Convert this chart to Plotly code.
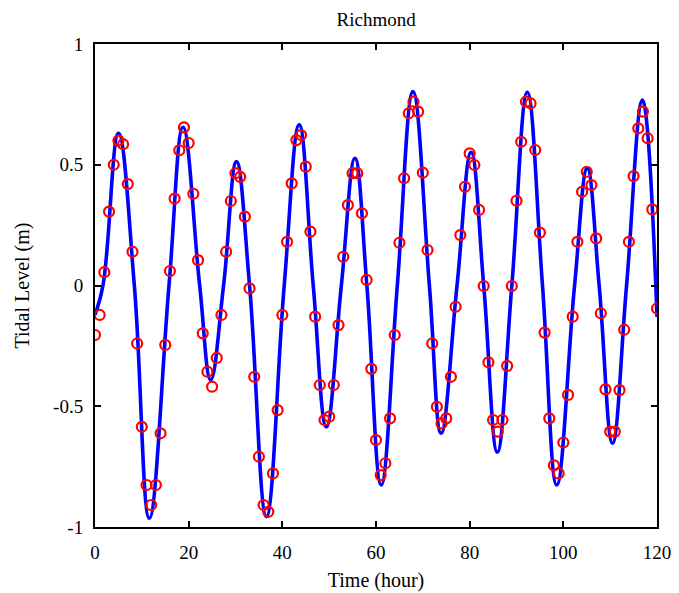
import plotly.graph_objects as go

# Observed tidal level (hourly samples), metres
obs_hour = list(range(0, 121))
obs_level = [
    -0.205, -0.122, 0.055, 0.306, 0.50, 0.60, 0.585, 0.42, 0.14, -0.24,
    -0.585, -0.826, -0.909, -0.826, -0.612, -0.246, 0.06, 0.36, 0.56, 0.655,
    0.59, 0.38, 0.105, -0.198, -0.357, -0.419, -0.30, -0.122, 0.14, 0.35,
    0.465, 0.45, 0.285, -0.012, -0.378, -0.709, -0.909, -0.937, -0.778, -0.516,
    -0.122, 0.181, 0.423, 0.602, 0.623, 0.492, 0.223, -0.129, -0.412, -0.557,
    -0.543, -0.412, -0.164, 0.119, 0.333, 0.465, 0.465, 0.299, 0.023, -0.345,
    -0.64, -0.785, -0.736, -0.55, -0.205, 0.177, 0.444, 0.713, 0.761, 0.72,
    0.467, 0.147, -0.24, -0.502, -0.571, -0.55, -0.378, -0.088, 0.209, 0.409,
    0.547, 0.499, 0.313, -0.002, -0.318, -0.557, -0.605, -0.557, -0.333, -0.002,
    0.351, 0.595, 0.761, 0.754, 0.561, 0.219, -0.195, -0.55, -0.745, -0.778,
    -0.65, -0.453, -0.129, 0.181, 0.388, 0.471, 0.416, 0.195, -0.115, -0.43,
    -0.605, -0.605, -0.433, -0.183, 0.181, 0.453, 0.651, 0.72, 0.61, 0.315,
    -0.095,
]

# Model curve knots (extrema and mean crossings)
model_hour = [
    0, 1.7, 5.0, 8.4, 11.6, 15.8, 18.8, 22.35, 24.7, 27.45,
    30.2, 33.0, 36.6, 40.4, 43.6, 46.6, 49.4, 52.6, 55.5, 58.05,
    61.1, 64.55, 67.9, 71.4, 73.9, 77.3, 80.3, 83.0, 85.9, 89.0,
    92.3, 95.55, 98.6, 102.4, 105.1, 107.65, 110.5, 113.5, 116.9, 120,
]
model_level = [
    -0.12, 0.0, 0.63, 0.0, -0.964, 0.0, 0.655, 0.0, -0.391, 0.0,
    0.513, 0.0, -0.957, 0.0, 0.665, 0.0, -0.585, 0.0, 0.527, 0.0,
    -0.826, 0.0, 0.803, 0.0, -0.612, 0.0, 0.552, 0.0, -0.69, 0.0,
    0.80, 0.0, -0.826, 0.0, 0.485, 0.0, -0.653, 0.0, 0.768, -0.13,
]

x_ticks = [0, 20, 40, 60, 80, 100, 120]
y_ticks = [-1, -0.5, 0, 0.5, 1]
y_tick_text = ["-1", "-0.5", "0", "0.5", "1"]

FONT = "Liberation Serif, Times New Roman, serif"

fig = go.Figure()
fig.add_trace(go.Scatter(
    x=model_hour, y=model_level, mode="lines",
    line=dict(color="#0000FF", width=3.6, shape="spline", smoothing=1.2),
    showlegend=False, hoverinfo="skip",
))
fig.add_trace(go.Scatter(
    x=obs_hour, y=obs_level, mode="markers",
    marker=dict(symbol="circle-open", color="#FF0000", size=10,
                line=dict(color="#FF0000", width=2.2)),
    showlegend=False,
))

axis_common = dict(
    showgrid=False, zeroline=False, showline=True, linecolor="black",
    linewidth=2, mirror="ticks", ticks="inside", ticklen=6, tickwidth=2,
    tickcolor="black", tickfont=dict(family=FONT, size=19, color="black"),
    automargin=False,
)

fig.update_layout(
    width=679, height=593,
    margin=dict(l=95, r=22, t=44, b=66),
    paper_bgcolor="white", plot_bgcolor="white",
    title=dict(text="Richmond", x=0.5539, xanchor="center", y=0.968,
               yanchor="middle", font=dict(family=FONT, size=19, color="black")),
    xaxis=dict(range=[0, 120], tickvals=x_ticks, ticklabelstandoff=7,
               title=dict(text="Time (hour)", standoff=11,
                          font=dict(family=FONT, size=20, color="black")),
               **axis_common),
    yaxis=dict(range=[-1, 1], tickvals=y_ticks, ticktext=y_tick_text,
               ticklabelstandoff=6,
               title=dict(text="Tidal Level (m)", standoff=18,
                          font=dict(family=FONT, size=20, color="black")),
               **axis_common),
)

fig.write_html("out.html")
